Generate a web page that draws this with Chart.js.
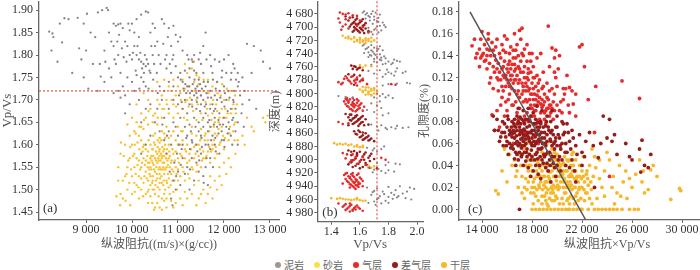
<!DOCTYPE html>
<html><head><meta charset="utf-8">
<script src="https://cdn.jsdelivr.net/npm/chart.js@4/dist/chart.umd.min.js"></script>
<style>
html,body{margin:0;padding:0;background:#fff;width:700px;height:270px;overflow:hidden;position:relative}
canvas{position:absolute;top:0}
#legend{position:absolute;left:275px;top:258px;display:flex;align-items:center;font:10px "Noto Sans CJK SC";color:#666;line-height:14px;white-space:nowrap}
#legend .it{display:flex;align-items:center;margin-right:10px}
#legend .dot{width:6px;height:6px;border-radius:50%;margin-right:3px}
</style></head><body>
<canvas id="ca" width="290" height="252" style="left:0"></canvas>
<canvas id="cb" width="160" height="252" style="left:269px"></canvas>
<canvas id="cc" width="342" height="252" style="left:418px"></canvas>
<div id="legend"></div>
<script>
// ---------- legend ----------
const LEGEND_LABELS = ['泥岩','砂岩','气层','差气层','干层'];
const LEGEND_COLORS = ['#a19692','#f7e04a','#e52b2b','#951c1c','#f6b82a'];

// ---------- panel (a): 纵波阻抗 vs Vp/Vs ----------
const A_X_TICKS = [9000,10000,11000,12000,13000];
const A_Y_TICKS = [1.45,1.50,1.55,1.60,1.65,1.70,1.75,1.80,1.85,1.90];
const A_CUTOFF = 1.72;
const mudA = [
[8200,1.852],[8270,1.848],[8290,1.84],[8250,1.81],[8380,1.785],[8430,1.87],[8530,1.882],[8480,1.828],[8620,1.88],[8700,1.76],
[8820,1.883],[8850,1.815],[8900,1.79],[8950,1.75],[9020,1.892],[9000,1.81],[9050,1.725],[9150,1.78],[9200,1.84],[9260,1.895],
[9300,1.78],[9320,1.752],[9350,1.90],[9400,1.81],[9420,1.785],[9450,1.905],[9480,1.90],[9400,1.74],[9250,1.72],[9500,1.85],
[9550,1.83],[9100,1.85],[8950,1.87],[9600,1.87],[9650,1.865],[9700,1.868],[9750,1.87],[9800,1.86],[9700,1.80],[9650,1.78],
[9750,1.76],[9800,1.73],[9700,1.72],[9600,1.715],[9750,1.705],[9850,1.71],[9900,1.82],[9950,1.80],[10000,1.79],[10050,1.82],
[10100,1.80],[10150,1.79],[10200,1.785],[10250,1.78],[10300,1.775],[10350,1.78],[10000,1.87],[10100,1.88],[10200,1.89],[10300,1.897],
[10350,1.895],[10450,1.87],[10500,1.86],[10400,1.85],[10150,1.84],[9950,1.855],[10050,1.85],[9850,1.83],[9900,1.75],[10000,1.74],
[10100,1.755],[10200,1.75],[10250,1.74],[10050,1.72],[10150,1.70],[10300,1.73],[10400,1.76],[10450,1.80],[10500,1.82],[10550,1.83],
[9550,1.75],[9500,1.77],[9600,1.82],[9850,1.67],[9950,1.69],[10300,1.68],[10400,1.69],[10200,1.65],[10650,1.88],[10700,1.87],
[10800,1.86],[10900,1.865],[10950,1.845],[11000,1.83],[11050,1.84],[10850,1.82],[10750,1.80],[10900,1.80],[11100,1.81],[11200,1.80],
[11300,1.79],[11350,1.80],[11450,1.79],[11500,1.78],[11250,1.77],[11150,1.765],[11050,1.76],[10950,1.775],[11400,1.76],[11600,1.85],
[11550,1.82],[11700,1.80],[11800,1.79],[11900,1.785],[12000,1.79],[12100,1.80],[12200,1.78],[12300,1.76],[12400,1.75],[12500,1.825],
[12650,1.82],[12800,1.81],[12850,1.785],[13000,1.77],[12600,1.76],[12450,1.72],[12300,1.73],
[10700,1.72],[10800,1.74],[10900,1.73],[11000,1.75],[11100,1.74],[11200,1.73],[11300,1.72],[11350,1.71],[11400,1.715],[11450,1.72],
[11500,1.71],[11550,1.70],[11600,1.73],[11650,1.74],[11700,1.72],[11800,1.71],[11900,1.72],[12000,1.73],[12100,1.72],[12200,1.70],
[11300,1.70],[11250,1.69],[11400,1.68],[11500,1.69],[11600,1.67],[11700,1.68],[11800,1.66],[11900,1.67],[12000,1.66],[12100,1.65],
[12200,1.66],[12300,1.65],[12050,1.64],[11950,1.63],[11850,1.64],[11750,1.62],[11650,1.63],[11550,1.64],[11450,1.65],[11350,1.66],
[11200,1.67],[11100,1.68],[11000,1.69],[10900,1.70],[10800,1.68],[10700,1.66],[10650,1.70],[10600,1.73],[10550,1.68],[10500,1.65],
[10600,1.63],[10700,1.61],[10800,1.63],[10900,1.65],[11000,1.62],[11100,1.60],[11200,1.62],[11300,1.61],[11400,1.60],[11500,1.62],
[11600,1.60],[11700,1.59],[11800,1.60],[11900,1.58],[12000,1.61],[12150,1.62],[11100,1.57],[11200,1.55],[11300,1.57],[11400,1.56],
[11500,1.58],[11600,1.55],[11700,1.57],[11000,1.54],[10900,1.52],[10950,1.50],[10850,1.48],[11050,1.51],[11550,1.53],[11650,1.51],
[11350,1.52],[10300,1.60],[10200,1.58],[10400,1.62],[11150,1.70],[11250,1.75],[11450,1.745],[11750,1.76],[11850,1.74],[11950,1.75],
[12050,1.76],[12150,1.745],[11550,1.76],[11350,1.765],[11650,1.705],[11750,1.69],[11850,1.70],[11950,1.695],[12050,1.70],[12150,1.68],
[12250,1.68],[11050,1.66],[10950,1.64],[10850,1.60],[10750,1.58],[11150,1.64],[11250,1.645],[11450,1.63],[11550,1.66],[11650,1.65],
[11950,1.61],[12250,1.63],[12300,1.60],[11380,1.725],[11420,1.705],[11320,1.735],[11480,1.735],[11260,1.715],[11120,1.725],[12080,1.675],
[11880,1.655],[11780,1.675],[12180,1.655],[11980,1.645],
[11020,1.71],[11080,1.695],[11180,1.715],[11240,1.73],[11420,1.73],[11520,1.725],[11620,1.715],[11720,1.705],[11820,1.725],[11920,1.705],
[12020,1.715],[12120,1.705],[12220,1.72],[11480,1.675],[11580,1.685],[11680,1.655],[11780,1.645],[11880,1.625],[12080,1.625],[12180,1.60],
[11280,1.63],[11380,1.64],[11180,1.615],[11080,1.59],[10980,1.58],[11420,1.585],[11520,1.595],[11620,1.57],[11720,1.61],[11820,1.585],
[10820,1.54],[10920,1.56],[11020,1.60],[11260,1.59],[11150,1.535],[11450,1.54],[11250,1.50],[10880,1.465],[11320,1.785],[11620,1.79],
[11720,1.775],[11480,1.805],[12230,1.77],[11230,1.79],[10850,1.76],[10750,1.77],[12350,1.71],[12400,1.69],
[9620,1.79],[9680,1.83],[9720,1.845],[9780,1.815],[9820,1.795],[9880,1.785],[9920,1.87],[10020,1.805],[10080,1.765],[10120,1.82],
[10180,1.805],[10220,1.77],[10280,1.80],[10320,1.79],[10380,1.765],[10420,1.82],[10480,1.78],[10540,1.76],[10580,1.80],[10620,1.78],
[10680,1.825],[10720,1.79],[10780,1.84],[10820,1.78],[10880,1.79],
[11060,1.745],[11160,1.735],[11360,1.745],[11560,1.74],[11760,1.745],[11960,1.765],[12160,1.76],[12260,1.745],[11310,1.685],[11410,1.695],
[11610,1.69],[11810,1.68],[12010,1.685],[12210,1.695],[11710,1.64],[11910,1.645],[12110,1.635],[11510,1.615],[11310,1.605],[11810,1.615],
[12010,1.595],[11660,1.60],[11460,1.565],[11760,1.55],[11060,1.555],[10960,1.53],[11260,1.545],[11560,1.515],[10760,1.62],[10660,1.645],
[10560,1.715],[10460,1.745],[10360,1.725],[10260,1.76],[10160,1.725],[12380,1.67],[12430,1.64],[12550,1.70],[12700,1.68],[12320,1.74]
];
const sandA = [
[10400,1.55],[10450,1.56],[10500,1.57],[10550,1.56],[10600,1.55],[10650,1.57],[10700,1.56],[10750,1.58],[10500,1.54],[10550,1.58],
[10600,1.59],[10650,1.545],[10700,1.535],[10450,1.53],[10400,1.57],[10350,1.56],[10300,1.54],[10750,1.55],[10800,1.57],[10850,1.56],
[10900,1.58],[10500,1.60],[10600,1.575],[10700,1.59],[10800,1.60],[10550,1.525],[10650,1.515],[10400,1.51],[10350,1.52],[10750,1.52],
[10850,1.535],[10950,1.55],[11000,1.57],[10250,1.57],[10200,1.55],[10150,1.53],[10300,1.59],[10450,1.59],[10600,1.535],[10700,1.575],
[10520,1.565],[10580,1.545],[10620,1.565],[10680,1.55],[10480,1.545],[10420,1.575],[10380,1.535],[10720,1.60],[10780,1.535],[10820,1.55],
[10880,1.59],[10920,1.52],[10660,1.595],[10560,1.61],[10460,1.62],[10360,1.61],[10260,1.60],[10160,1.59],[10100,1.57],[10050,1.55],
[10000,1.53],[10100,1.51],[10200,1.50],[10300,1.49],[10400,1.485],[10500,1.49],[10600,1.50],[10700,1.49],[10800,1.505],[10900,1.495],
[11000,1.52],[10550,1.47],[10650,1.455],[10750,1.46],[10500,1.46],[10350,1.47],[10150,1.48],[10000,1.49],[9900,1.50],[9800,1.48],
[9750,1.49],[9850,1.53],[9900,1.55],[9950,1.57],[10000,1.60],[9950,1.62],[10050,1.63],[10150,1.62],[10250,1.635],[10350,1.645],
[10450,1.65],[10550,1.645],[10650,1.63],[10750,1.64],[10850,1.62],[10950,1.61],[11050,1.60],[11150,1.59],[11250,1.58],[11350,1.595],
[11450,1.60],[11550,1.585],[11650,1.61],[11750,1.60],[11850,1.62],[11950,1.64],[12050,1.66],[11900,1.66],[11800,1.65],[11850,1.675],
[11950,1.68],[12000,1.70],[11750,1.67],[11650,1.665],[11700,1.69],[11600,1.695],[11500,1.67],[11400,1.655],[11300,1.64],[11200,1.655],
[11100,1.63],[11000,1.64],[10900,1.66],[10800,1.67],[10700,1.68],[10600,1.69],[10550,1.70],[10650,1.71],[10750,1.70],[10850,1.72],
[10950,1.71],[11050,1.715],[11150,1.725],[11250,1.73],[11350,1.74],[11450,1.735],[11550,1.72],[11650,1.745],[11750,1.73],[11850,1.74],
[11100,1.745],[11200,1.76],[11300,1.77],[11400,1.755],[11000,1.73],[10900,1.745],[10800,1.73],[10700,1.745],[11150,1.78],[11350,1.785],
[10650,1.66],[10500,1.67],[10400,1.68],[10300,1.66],[10200,1.67],[10100,1.69],[10350,1.70],[10450,1.72],[10550,1.74],[10250,1.715],
[11200,1.70],[11300,1.69],[11400,1.70],[11500,1.71],[11100,1.68],[11000,1.67],[10900,1.69],[11700,1.64],[11800,1.625],[11900,1.60],
[12000,1.59],[12100,1.61],[12200,1.63],[12250,1.65],[12150,1.67],[12200,1.69],[12100,1.70],[12300,1.61],[12250,1.58],[12150,1.55],
[12100,1.57],[12000,1.56],[11900,1.55],[11800,1.57],[11700,1.56],[11600,1.57],[11500,1.55],[11400,1.54],[11300,1.55],[11200,1.56],
[11100,1.55],[11000,1.545],[11050,1.53],[11150,1.52],[11250,1.525],[11350,1.51],[11450,1.52],[11550,1.50],[11650,1.49],[11750,1.48],
[11600,1.47],[11450,1.48],[11300,1.49],[11150,1.495],[11050,1.48],[10950,1.47],[10850,1.475],[11700,1.53],[11800,1.52],[11900,1.53],
[11950,1.51],[12050,1.535],[11850,1.58],[11750,1.59],[11650,1.585],[11550,1.57],[11450,1.575],[11350,1.57],[11250,1.565],[11150,1.57],
[11050,1.58],[10950,1.585],[12400,1.62],[12500,1.66],[12600,1.64],[12650,1.63],[12850,1.66],[12900,1.65],[12950,1.665],[12450,1.60],
[9850,1.60],[9750,1.58],[9700,1.55],[9800,1.52],[10050,1.58],[9900,1.645],[10000,1.66],[10100,1.65],[10200,1.64],[10400,1.60],
[10500,1.625],[10600,1.615],[10700,1.625],[10800,1.615],[10900,1.63],[11000,1.60],[11100,1.61],[11200,1.60],[11300,1.625],[11400,1.62],
[11500,1.635],[11600,1.625],[10350,1.585],[10450,1.52],[10250,1.515],[10150,1.565],[10050,1.515],[10750,1.48],[10650,1.48],[10450,1.50],
[10470,1.555],[10530,1.55],[10570,1.57],[10630,1.58],[10670,1.56],[10730,1.545],[10770,1.565],[10430,1.565],[10370,1.545],[10330,1.575],
[10610,1.525],[10690,1.52],[10510,1.51],[10590,1.585],[10810,1.585],[10870,1.545],[10930,1.565],[10970,1.535],[10270,1.53],[10230,1.585],
[11070,1.63],[11130,1.66],[11230,1.685],[11330,1.675],[11430,1.69],[11530,1.655],[11630,1.68],[11730,1.655],[11830,1.69],[11930,1.71],
[12030,1.68],[12130,1.64],[12230,1.61],[11980,1.62],[11880,1.635],[11780,1.61],[11680,1.595],[11580,1.61],[11480,1.59],[11380,1.58],
[10420,1.545],[10460,1.575],[10540,1.535],[10580,1.565],[10620,1.545],[10660,1.575],[10700,1.545],[10740,1.57],[10780,1.555],[10820,1.575],
[10860,1.565],[10440,1.59],[10480,1.605],[10520,1.585],[10560,1.595],[10600,1.605],[10640,1.61],[10680,1.585],[10720,1.615],[10760,1.59],
[10380,1.56],[10340,1.55],[10300,1.565],[10280,1.555],[10320,1.525],[10360,1.50],[10400,1.53],[10440,1.515],[10480,1.50],[10520,1.52],
[10560,1.505],[10600,1.515],[10640,1.53],[10680,1.51],[10720,1.50],[10760,1.515],[10800,1.525],[10840,1.51],[10880,1.52],[10900,1.54],
[10200,1.525],[10180,1.545],[10120,1.555],[10080,1.535],[10220,1.56],[10240,1.595],[10200,1.61],[10120,1.605],[10060,1.60],[10020,1.575],
[9960,1.595],[9920,1.565],[9880,1.535],[9940,1.515],[9980,1.545],[10060,1.495],[10140,1.505],[10240,1.485],[10340,1.495],[10440,1.47],
[10580,1.485],[10700,1.475],[10820,1.49],[10980,1.50],[11100,1.465],[11200,1.48],[11400,1.465],[11500,1.49],[11700,1.505],[11850,1.50],
[11020,1.56],[11080,1.575],[11120,1.54],[11180,1.585],[11220,1.535],[11280,1.59],[11320,1.545],[11380,1.60],[11420,1.555],[11480,1.61],
[11520,1.565],[11580,1.62],[11620,1.575],[11680,1.63],[11720,1.585],[11780,1.64],[11820,1.595],[11880,1.65],[11920,1.605],[11980,1.66],
[12020,1.615],[12080,1.67],[12120,1.625],[12180,1.68],[12220,1.645],[12260,1.67],[12280,1.69],[12240,1.71],[12160,1.72],[12060,1.725],
[11960,1.735],[11860,1.715],[11760,1.70],[11660,1.715],[11560,1.745],[11460,1.75],[11360,1.72],[11260,1.705],[11160,1.695],[11060,1.70],
[10960,1.685],[10860,1.70],[10760,1.69],[10660,1.68],[10560,1.66],[10460,1.665],[10360,1.675],[10260,1.655],[10160,1.64],[10080,1.625],
[9820,1.575],[9760,1.605],[9700,1.52],[9660,1.485],[9740,1.465],[9860,1.475],[9960,1.465],[10600,1.46],[10480,1.455],[10900,1.46]
];

// ---------- panel (b): depth vs Vp/Vs ----------
const B_X_TICKS = [1.4,1.6,1.8,2.0];
const B_Y_TICKS = [4680,4700,4720,4740,4760,4780,4800,4820,4840,4860,4880,4900,4920,4940,4960,4980];
const B_CUTOFF = 1.72;
const mudB = [
[1.62,4678],[1.65,4679],[1.68,4680],[1.71,4678],[1.74,4681],[1.66,4683],[1.70,4684],[1.73,4686],[1.64,4687],[1.67,4690],
[1.72,4691],[1.76,4693],[1.69,4695],[1.74,4698],[1.78,4700],[1.71,4702],[1.75,4705],[1.68,4707],[1.63,4676],[1.69,4676],
[1.62,4728],[1.66,4730],[1.70,4731],[1.74,4729],[1.64,4733],[1.68,4735],[1.72,4736],[1.66,4738],[1.70,4740],[1.74,4741],
[1.68,4743],[1.72,4745],[1.77,4744],[1.65,4732],[1.73,4733],[1.67,4742],
[1.70,4748],[1.75,4750],[1.80,4752],[1.86,4751],[1.72,4753],[1.78,4755],[1.83,4754],[1.68,4757],[1.74,4765],[1.80,4768],
[1.85,4767],[1.90,4769],[1.70,4770],[1.76,4775],[1.66,4766],[1.82,4770],
[1.80,4786],[1.86,4785],[1.93,4784],[1.72,4800],[1.76,4801],[1.80,4803],[1.68,4802],[1.74,4804],
[1.45,4804],[1.50,4805],[1.55,4806],[1.68,4815],[1.72,4818],[1.65,4825],[1.70,4828],[1.75,4822],
[1.72,4850],[1.78,4852],[1.85,4853],[1.90,4852],[1.75,4848],[1.68,4847],[1.82,4851],
[1.65,4882],[1.70,4883],[1.75,4884],[1.69,4886],
[1.72,4905],[1.78,4908],[1.85,4906],[1.66,4912],[1.70,4915],[1.75,4917],[1.80,4916],[1.73,4914],
[1.65,4942],[1.72,4943],[1.80,4941],[1.88,4940],[1.95,4942],[1.70,4947],[1.76,4948],[1.82,4950],[1.90,4951],[1.68,4953],
[1.74,4955],[1.80,4956],[1.86,4957],[1.72,4960],[1.78,4962],[1.92,4958],[1.66,4965],[1.75,4966],[1.70,4963],[1.84,4953],
[1.77,4952],[1.73,4958],[1.69,4949],
[1.64,4681],[1.67,4685],[1.70,4689],[1.73,4692],[1.77,4697],[1.72,4699],[1.66,4701],[1.70,4704],[1.73,4708],[1.69,4711],
[1.63,4726],[1.68,4727],[1.72,4732],[1.76,4735],[1.69,4737],[1.63,4739],[1.71,4742],[1.75,4746],[1.66,4745],
[1.74,4749],[1.78,4747],[1.84,4749],[1.88,4752],[1.70,4752],[1.76,4756],[1.82,4756],[1.79,4764],[1.86,4762],[1.92,4767],[1.78,4771],
[1.84,4773],[1.95,4785],[1.76,4788],[1.70,4806],[1.78,4806],[1.83,4807],[1.74,4812],[1.80,4830],[1.76,4833],[1.86,4849],[1.79,4854],
[1.94,4851],[1.73,4856],[1.77,4880],[1.72,4888],[1.80,4904],[1.88,4907],[1.69,4919],[1.78,4920],[1.84,4918],[1.98,4944],
[1.85,4946],[1.93,4948],[1.87,4955],[1.83,4959],[1.96,4960],[1.80,4965],[1.71,4968]
];
const gasB = [
[1.48,4680],[1.52,4679],[1.55,4682],[1.45,4687],[1.50,4688],[1.60,4690],[1.46,4693],[1.50,4696],[1.58,4698],[1.62,4700],
[1.47,4704],[1.66,4708],
[1.50,4774],[1.54,4775],[1.58,4776],[1.62,4778],[1.52,4780],[1.56,4781],[1.60,4782],[1.48,4784],[1.54,4785],[1.65,4786],
[1.45,4783],[1.58,4788],[1.82,4786],[1.85,4787],[1.51,4777],[1.57,4779],
[1.50,4808],[1.53,4809],[1.56,4810],[1.59,4811],[1.52,4812],[1.55,4813],[1.58,4814],[1.61,4815],[1.50,4816],[1.54,4817],
[1.57,4818],[1.52,4820],[1.56,4821],[1.60,4822],[1.54,4824],[1.58,4825],[1.62,4826],[1.51,4810],[1.55,4815],[1.59,4819],
[1.53,4823],[1.57,4827],
[1.45,4843],[1.48,4846],[1.52,4845],
[1.48,4890],[1.55,4892],[1.62,4895],[1.50,4898],[1.56,4900],[1.60,4902],[1.53,4904],[1.58,4906],[1.64,4908],[1.75,4897],
[1.78,4900],
[1.50,4921],[1.54,4922],[1.58,4923],[1.52,4925],[1.56,4926],[1.60,4927],[1.50,4929],[1.54,4930],[1.58,4931],[1.62,4932],
[1.52,4934],[1.56,4935],[1.60,4936],[1.54,4938],[1.58,4939],[1.56,4942],[1.62,4940],[1.48,4936],[1.53,4928],[1.57,4933],
[1.55,4924],[1.59,4937],
[1.45,4966],[1.50,4967],[1.54,4968],[1.58,4969],[1.48,4971],[1.52,4972],[1.56,4973],[1.60,4974],[1.50,4976],[1.55,4977],
[1.53,4970],[1.57,4975],
[1.46,4678],[1.50,4681],[1.58,4683],[1.53,4686],[1.48,4699],[1.52,4702],[1.55,4774],[1.49,4778],[1.53,4782],[1.57,4784],[1.61,4780],[1.47,4786],
[1.51,4807],[1.55,4807],[1.58,4809],[1.52,4814],[1.56,4816],[1.60,4817],[1.51,4819],[1.55,4819],[1.59,4823],[1.55,4826],[1.63,4820],[1.49,4812],
[1.51,4892],[1.57,4896],[1.54,4901],[1.51,4920],[1.55,4920],[1.59,4921],[1.49,4923],[1.53,4926],[1.57,4929],[1.61,4929],[1.51,4932],[1.55,4933],
[1.59,4934],[1.53,4937],[1.57,4938],[1.55,4940],[1.59,4941],[1.53,4942],[1.57,4944],[1.49,4969],[1.53,4966],[1.57,4971],[1.51,4974],[1.55,4975],
[1.59,4972],[1.62,4977],[1.53,4978]
];
const poorB = [
[1.50,4684],[1.55,4685],[1.58,4687],[1.62,4688],[1.52,4690],[1.56,4692],[1.60,4693],[1.64,4694],[1.54,4696],[1.58,4697],
[1.62,4698],[1.56,4700],[1.60,4701],[1.64,4702],[1.58,4704],[1.62,4705],[1.55,4707],[1.60,4708],[1.66,4706],[1.57,4695],
[1.54,4758],[1.57,4760],[1.60,4761],[1.55,4763],[1.58,4764],[1.62,4765],
[1.52,4771],[1.56,4772],[1.60,4773],[1.58,4779],[1.62,4780],[1.56,4787],
[1.50,4831],[1.54,4832],[1.58,4833],[1.62,4834],[1.52,4836],[1.56,4837],[1.60,4838],[1.64,4839],[1.54,4841],[1.58,4842],
[1.62,4843],[1.56,4845],[1.60,4846],[1.66,4847],[1.52,4848],[1.57,4835],[1.59,4840],
[1.56,4857],[1.60,4858],[1.64,4860],[1.58,4862],[1.62,4863],[1.66,4864],[1.60,4866],[1.64,4867],[1.68,4868],[1.62,4870],
[1.66,4871],[1.70,4872],
[1.52,4886],[1.56,4887],[1.60,4888],[1.64,4889],[1.68,4891],[1.54,4893],[1.58,4894],[1.62,4896],[1.66,4897],[1.70,4899],
[1.55,4901],[1.60,4903],[1.64,4905],[1.52,4907],[1.57,4909],[1.62,4911],[1.67,4912],[1.72,4913],[1.58,4890],[1.61,4900],
[1.53,4686],[1.57,4689],[1.61,4691],[1.55,4694],[1.59,4695],[1.63,4697],[1.53,4699],[1.57,4702],[1.61,4703],[1.56,4705],[1.59,4706],[1.63,4709],
[1.56,4759],[1.59,4762],[1.53,4832],[1.57,4834],[1.61,4836],[1.55,4838],[1.59,4839],[1.53,4840],[1.57,4843],[1.61,4844],[1.55,4846],[1.59,4849],
[1.63,4848],[1.59,4856],[1.62,4859],[1.57,4861],[1.61,4865],[1.65,4866],[1.63,4869],[1.67,4870],[1.54,4888],[1.58,4892],[1.63,4892],[1.67,4894],
[1.57,4898],[1.63,4900],[1.67,4902],[1.54,4904],[1.59,4906],[1.65,4908],[1.55,4911],[1.60,4913]
];
const dryB = [
[1.48,4713],[1.52,4714],[1.56,4715],[1.60,4716],[1.64,4717],[1.68,4716],[1.54,4718],[1.58,4719],[1.62,4720],[1.66,4721],
[1.56,4722],[1.60,4723],[1.64,4724],[1.70,4720],[1.50,4716],
[1.60,4757],[1.64,4758],[1.68,4759],[1.62,4761],
[1.62,4790],[1.66,4791],[1.70,4792],[1.60,4794],[1.64,4795],[1.68,4796],[1.72,4797],[1.62,4798],[1.66,4799],[1.70,4800],
[1.64,4802],[1.68,4803],
[1.42,4875],[1.46,4876],[1.50,4876],[1.54,4877],[1.58,4878],[1.62,4879],[1.56,4880],[1.60,4881],
[1.66,4909],[1.70,4910],[1.68,4912],
[1.40,4958],[1.44,4959],[1.48,4959],[1.52,4960],[1.56,4960],[1.60,4961],[1.64,4962],[1.58,4958],
[1.52,4717],[1.56,4716],[1.60,4719],[1.64,4720],[1.58,4721],[1.62,4722],[1.66,4718],[1.68,4722],[1.64,4791],[1.68,4793],
[1.62,4796],[1.66,4797],[1.70,4795],[1.66,4801],[1.44,4877],[1.48,4877],[1.52,4878],[1.58,4880],[1.62,4881],[1.46,4958],
[1.50,4960],[1.54,4961],[1.58,4960],[1.62,4962]
];

// ---------- panel (c): 纵波阻抗×Vp/Vs vs 孔隙度 ----------
const C_X_TICKS = [14000,18000,22000,26000,30000,34000];
const C_Y_TICKS = [0,0.02,0.04,0.06,0.08,0.10,0.12,0.14,0.16,0.18];
const trendC = [[13040,0.18],[22300,-0.0097]];
const gasC = [
[13200,0.149],[13500,0.138],[13800,0.146],[14000,0.162],[14100,0.142],[14300,0.136],[14500,0.160],[14600,0.145],[14800,0.152],[14900,0.130],
[15000,0.140],[15100,0.148],[15300,0.133],[15400,0.125],[15500,0.138],[15700,0.130],[15800,0.120],[15900,0.143],[16000,0.128],[16100,0.115],
[16200,0.135],[16300,0.122],[16400,0.110],[16500,0.145],[16600,0.132],[16700,0.118],[16800,0.105],[16900,0.140],[17000,0.163],[17100,0.125],
[17200,0.165],[17300,0.112],[17400,0.130],[17500,0.100],[17600,0.120],[17700,0.108],[17800,0.142],[17900,0.095],[18000,0.115],[18100,0.130],
[18200,0.105],[18300,0.090],[18400,0.122],[18500,0.098],[18700,0.142],[18800,0.110],[19000,0.088],[19200,0.102],[19300,0.167],[19400,0.130],
[19500,0.095],[19600,0.147],[19800,0.138],[20000,0.112],[20100,0.128],[20300,0.098],[20500,0.110],[20800,0.122],[21000,0.088],[21300,0.096],
[21500,0.085],[21800,0.148],[22000,0.150],[22200,0.130],[23100,0.112],[25200,0.117],[26600,0.101],[19900,0.145],[20200,0.140],[21000,0.111],
[20700,0.110],[15200,0.120],[15600,0.112],[15900,0.098],[16200,0.105],[16500,0.095],[16800,0.088],[17000,0.092],[17300,0.098],[17600,0.088],
[17800,0.082],[18000,0.092],[18200,0.085],[18500,0.080],[18800,0.093],[19100,0.078],[19400,0.085],[19700,0.082],[16100,0.125],[16400,0.132],
[16700,0.138],[17000,0.128],[17300,0.140],[17600,0.135],[17900,0.125],[18300,0.112],[18600,0.118],[18900,0.125],[19200,0.115],[19600,0.110],
[16000,0.090],[15800,0.085],[15400,0.075],[15000,0.072],[14800,0.086],[15600,0.102],[16300,0.118],[16600,0.108],[16900,0.115],[17200,0.105],
[17500,0.115],[17800,0.100],[18100,0.100],[18400,0.104],[18700,0.096],[19000,0.105],[19300,0.092],[14200,0.150],[14400,0.128],[14700,0.120],
[15200,0.155],[15600,0.150],[16000,0.155],[16300,0.148],[16800,0.150],[17100,0.155],[17600,0.150],[18000,0.142],[18400,0.138],[13800,0.130],
[14000,0.140],[14900,0.110],[15300,0.108],[17500,0.070],[18500,0.060],[19500,0.050],[20000,0.040],[21000,0.030],[16500,0.060],[23000,0.070],
[24200,0.030],[13400,0.155],[14400,0.146],[15700,0.145],[16600,0.126],[17400,0.146],[17700,0.124],[18200,0.120],[19900,0.120],[20500,0.100],
[21200,0.108],[22500,0.100],
[13600,0.142],[13900,0.138],[14200,0.135],[14400,0.140],[14600,0.133],[14700,0.140],[14900,0.145],[15100,0.136],[15200,0.128],[15400,0.142],
[15500,0.118],[15600,0.128],[15700,0.122],[15800,0.135],[15900,0.112],[16000,0.118],[16100,0.132],[16200,0.112],[16300,0.128],[16400,0.122],
[16500,0.115],[16600,0.118],[16700,0.128],[16800,0.122],[16900,0.108],[17000,0.118],[17100,0.135],[17200,0.115],[17300,0.125],[17400,0.120],
[17500,0.108],[17600,0.112],[17700,0.118],[17800,0.110],[17900,0.105],[18000,0.105],[18100,0.110],[18200,0.095],[18300,0.100],[18400,0.095],
[18500,0.108],[18600,0.102],[18700,0.088],[18800,0.100],[18900,0.095],[19000,0.098],[19100,0.090],[19200,0.092],[19300,0.100],[19400,0.095],
[19500,0.088],[19600,0.092],[19700,0.098],[19800,0.090],[20000,0.095],[20200,0.090],[20400,0.088],[15300,0.118],[15700,0.108],[16100,0.100],
[16400,0.095],[16700,0.098],[17000,0.102],[17300,0.108],[17600,0.098],[17900,0.092],[18200,0.090],[15000,0.125],[14600,0.115],[15900,0.122],
[16500,0.138],[16900,0.130],[17700,0.128],[18100,0.120],[18500,0.115],[18900,0.112],[19400,0.108],[19800,0.105],[16200,0.142],[16700,0.145],
[17200,0.142],[17900,0.135],[16900,0.082],[17400,0.085],[17700,0.080],[18000,0.085],[18300,0.078],[18600,0.082],[19000,0.082],[15500,0.095],
[15200,0.090],[14500,0.155],[13900,0.155],[15800,0.158],[16600,0.160],[19800,0.125],[20600,0.105],[21500,0.105],[20900,0.095]
];
const poorC = [
[15000,0.072],[15400,0.062],[15700,0.058],[15900,0.066],[16000,0.075],[16200,0.060],[16300,0.070],[16400,0.080],[16500,0.055],[16600,0.065],
[16700,0.075],[16800,0.085],[16900,0.058],[17000,0.068],[17100,0.078],[17200,0.050],[17300,0.062],[17400,0.072],[17500,0.082],[17600,0.055],
[17700,0.066],[17800,0.076],[17900,0.045],[18000,0.058],[18100,0.068],[18200,0.078],[18300,0.050],[18400,0.062],[18500,0.072],[18600,0.040],
[18700,0.055],[18800,0.065],[18900,0.075],[19000,0.048],[19100,0.058],[19200,0.068],[19300,0.035],[19400,0.052],[19500,0.062],[19600,0.072],
[19700,0.042],[19800,0.055],[19900,0.065],[20000,0.075],[20200,0.048],[20400,0.060],[20600,0.070],[20800,0.052],[21000,0.062],[21200,0.045],
[21500,0.058],[21800,0.068],[22000,0.052],[22300,0.062],[22600,0.070],[22900,0.058],[23300,0.047],[23700,0.085],[24000,0.065],[24200,0.082],
[24400,0.062],[24800,0.050],[25500,0.060],[26000,0.045],[26600,0.055],[26700,0.034],[26800,0.063],[27000,0.040],[27300,0.038],[27500,0.050],
[16200,0.072],[16600,0.070],[17000,0.060],[17400,0.058],[17800,0.062],[18200,0.058],[18600,0.062],[17200,0.070],[17600,0.075],[18000,0.072],
[16800,0.062],[16400,0.066],[17900,0.085],[18300,0.082],[18700,0.080],[19100,0.076],[19500,0.080],[20100,0.068],[20500,0.078],[16900,0.045],
[17300,0.040],[17700,0.038],[18100,0.035],[18500,0.032],[18900,0.042],[16100,0.050],[16600,0.046],[17100,0.064],[17500,0.064],[18400,0.068],
[19800,0.038],[20300,0.035],[21500,0.025],[22000,0.040],[23000,0.020],[21000,0.038],[14900,0.085],[15200,0.082],[15600,0.070],[16900,0.092],
[17300,0.090],[17700,0.092],[18100,0.088],[18400,0.094],[18800,0.090],[19200,0.085],[19600,0.090],[20000,0.085],[20400,0.080],[20800,0.078],
[21200,0.072],[17000,0.000],[16700,0.052],[17150,0.056],[17650,0.070],[18250,0.066],[18750,0.070],[19350,0.072],[17350,0.080],[17050,0.084],
[16550,0.078],[15800,0.070],[18650,0.048],[19250,0.052],
[15800,0.078],[16000,0.062],[16100,0.082],[16300,0.056],[16500,0.072],[16600,0.082],[16700,0.060],[16800,0.072],[16900,0.080],[17000,0.052],
[17100,0.072],[17200,0.082],[17300,0.068],[17400,0.052],[17500,0.060],[17600,0.068],[17700,0.082],[17800,0.050],[17900,0.070],[18000,0.065],
[18100,0.078],[18200,0.045],[18300,0.060],[18400,0.075],[18500,0.055],[18600,0.068],[18700,0.078],[18800,0.045],[18900,0.060],[19000,0.070],
[19100,0.050],[19200,0.062],[19300,0.075],[19400,0.045],[19500,0.070],[19600,0.058],[19700,0.068],[19800,0.048],[19900,0.075],[20000,0.058],
[20100,0.045],[20200,0.065],[20300,0.055],[20500,0.068],[20700,0.060],[20900,0.070],[21100,0.055],[21300,0.065],[21600,0.050],[16400,0.058],
[16800,0.050],[17200,0.058],[17600,0.048],[18000,0.048],[18400,0.052],[18800,0.056],[19200,0.042],[19600,0.048],[20000,0.040],[20400,0.045],
[17000,0.075],[17400,0.078],[17800,0.070],[18200,0.072],[18600,0.075],[19000,0.065],[16600,0.076],[16200,0.068],[15500,0.066],[15300,0.072],
[16700,0.040],[17500,0.044],[18300,0.040],[19100,0.038],[19900,0.030],[20700,0.040],[21400,0.035],[22200,0.048],[23500,0.060],[24600,0.068],
[25800,0.048],[17900,0.030],[18700,0.028],[19500,0.025],
[16450,0.069],[16750,0.067],[17050,0.071],[17250,0.065],[17450,0.067],[17750,0.064],[17950,0.060],[18150,0.062],[18350,0.070],[18550,0.064],
[18850,0.060],[19050,0.060],[19450,0.064],[19750,0.060],[17150,0.048],[17550,0.052],[17950,0.054],[18450,0.046],[18950,0.050],[19450,0.040],
[16350,0.075],[16850,0.078],[17350,0.073],[17850,0.080],[18450,0.079],[19150,0.080],[19850,0.062],[20250,0.058],[20650,0.052],[15650,0.080],
[16050,0.085],[15950,0.058]
];
const dryC = [
[15100,0.017],[15300,0.014],[16000,0.025],[15800,0.055],[16600,0.045],[16900,0.020],[17200,0.030],[17400,0.010],[17500,0.040],[17700,0.025],
[17800,0.050],[17900,0.015],[18000,0.035],[18100,0.005],[18200,0.028],[18300,0.045],[18400,0.018],[18500,0.008],[18600,0.038],[18700,0.025],
[18800,0.012],[18900,0.048],[19000,0.030],[19100,0.020],[19200,0.005],[19300,0.040],[19400,0.028],[19500,0.015],[19600,0.035],[19700,0.022],
[19800,0.008],[19900,0.045],[20000,0.030],[20100,0.018],[20200,0.038],[20300,0.025],[20400,0.010],[20500,0.042],[20600,0.028],[20700,0.015],
[20800,0.035],[20900,0.022],[21000,0.005],[21100,0.032],[21200,0.018],[21300,0.040],[21400,0.028],[21500,0.012],[21600,0.030],[21800,0.020],
[22000,0.035],[22200,0.025],[22400,0.015],[22600,0.040],[22800,0.055],[23000,0.048],[23400,0.028],[23800,0.035],[24000,0.052],[24200,0.045],
[24500,0.030],[24800,0.015],[25000,0.040],[25300,0.025],[25600,0.010],[25800,0.028],[26300,0.032],[26600,0.045],[26800,0.025],[27000,0.015],
[27300,0.018],[27500,0.036],[27700,0.040],[28000,0.030],[29100,0.009],[29900,0.017],[29800,0.019],
[18000,0],[18300,0],[18600,0],[18900,0],[19200,0],[19500,0],[19800,0],[20100,0],[20400,0],[20700,0],
[21000,0],[21300,0],[21600,0],[22000,0],[22500,0],[23000,0],[23300,0],[23600,0],[23900,0],[24200,0],
[24500,0],[24800,0],[25200,0],[25800,0],[26200,0],[26500,0],
[18200,0.020],[18500,0.030],[18800,0.035],[19100,0.040],[19400,0.050],[19700,0.045],[20000,0.050],[20300,0.055],[19200,0.060],[18700,0.055],
[18300,0.062],[19600,0.055],[20600,0.048],[20900,0.044],[21200,0.050],[21500,0.045],[21800,0.040],[22100,0.048],[19000,0.012],[19300,0.018],
[19600,0.008],[19900,0.012],[20200,0.005],[20500,0.020],[20800,0.008],[21100,0.012],[21400,0.005],[21700,0.008],[22200,0.008],[22500,0.022],
[17300,0.055],[17600,0.060],[17000,0.050],[16800,0.035],[17900,0.060],[18450,0.042],[18950,0.022],[19450,0.034],[19950,0.026],[20450,0.032],
[20950,0.030],[21450,0.020],[21950,0.028],[22350,0.032],[23200,0.010],[23600,0.020],[24600,0.005],[25100,0.012],[26000,0.020],[17600,0.018],
[17400,0.020],[17700,0.035],[17900,0.040],[18100,0.025],[18300,0.012],[18400,0.030],[18600,0.020],[18700,0.040],[18800,0.005],[18900,0.030],
[19000,0.040],[19100,0.008],[19200,0.025],[19300,0.030],[19400,0.010],[19500,0.025],[19600,0.040],[19700,0.015],[19800,0.030],[19900,0.020],
[20000,0.010],[20100,0.035],[20200,0.020],[20300,0.040],[20400,0.030],[20500,0.005],[20600,0.015],[20700,0.035],[20800,0.025],[20900,0.010],
[21000,0.020],[21100,0.040],[21200,0.030],[21300,0.010],[21400,0.020],[21500,0.035],[21600,0.015],[21700,0.025],[21800,0.030],[21900,0.010],
[22000,0.020],[22100,0.030],[22300,0.015],[22400,0.035],[22600,0.010],[22700,0.025],[22900,0.030],[23100,0.038],[18500,0.045],[19000,0.050],
[19500,0.045],[20000,0.045],[20500,0.035],[21000,0.045],[18000,0.045],[17800,0.040],[18200,0.050],[18800,0.052],[19800,0.052],[20800,0.045],
[21300,0.052],[17500,0.028],[17100,0.040],[16700,0.030],[16400,0.040],[17200,0.015],[18000,0.020],[19300,0.003],[20900,0.000],[21900,0.000],
[22800,0.005],[23800,0.012],[24400,0.020],[25500,0.035],[26900,0.035],[23400,0.045],[16200,0.050],[15600,0.035],
[18150,0.015],[18350,0.035],[18650,0.030],[18850,0.018],[19050,0.025],[19250,0.035],[19550,0.020],[19750,0.030],[20050,0.022],[20250,0.030],
[20550,0.025],[20750,0.020],[21050,0.025],[21250,0.035],[21550,0.028],[21750,0.018],[22150,0.018],[22450,0.028],[18550,0.022],[19150,0.015],
[19650,0.018],[20150,0.042],[20650,0.040],[21150,0.022],[17850,0.030],[17650,0.045],[19850,0.038],[22750,0.018]
];

// ---------- helpers ----------
const pts = arr => arr.map(p => ({x: p[0], y: p[1]}));
const fmtThousands = v => v >= 1000 ? Math.floor(v/1000) + ' ' + String(Math.round(v % 1000)).padStart(3,'0') : String(v);
const TICK_FONT = {family: '"Liberation Serif","DejaVu Serif",serif', size: 12};
const TITLE_FONT = {family: '"Liberation Serif","Noto Sans CJK SC",serif', size: 12};
const AXIS_COLOR = '#666';

const overlay = {
  id: 'overlay',
  afterDatasetsDraw(chart, args, o) {
    const {ctx, chartArea: a, scales} = chart;
    ctx.save();
    if (o.hline !== undefined || o.vline !== undefined) {
      ctx.strokeStyle = '#e8553f'; ctx.lineWidth = 1.2; ctx.setLineDash([2, 2]);
      ctx.beginPath();
      if (o.hline !== undefined) { const y = scales.y.getPixelForValue(o.hline); ctx.moveTo(a.left, y); ctx.lineTo(a.right, y); }
      if (o.vline !== undefined) { const x = scales.x.getPixelForValue(o.vline); ctx.moveTo(x, a.top); ctx.lineTo(x, a.bottom); }
      ctx.stroke();
    }
    ctx.setLineDash([]);
    ctx.fillStyle = '#333';
    ctx.font = '13px "Liberation Serif", serif';
    ctx.textBaseline = 'middle';
    ctx.fillText(o.label, a.left + o.dx, a.bottom - o.dy);
    ctx.restore();
  }
};

function axis(o) {
  return {
    type: 'linear', position: o.pos, min: o.min, max: o.max, reverse: !!o.reverse,
    afterBuildTicks: s => { s.ticks = o.ticks.map(v => ({value: v})); },
    afterFit: s => {
      if (o.pos === 'bottom') { s.height = o.size; } else { s.width = o.size; }
      s.paddingLeft = 0; s.paddingRight = 0; s.paddingTop = 0; s.paddingBottom = 0;
    },
    border: {display: true, color: AXIS_COLOR, width: 1.3},
    grid: {display: true, drawOnChartArea: false, drawTicks: true, tickLength: 3, color: AXIS_COLOR, lineWidth: 1},
    ticks: {font: TICK_FONT, color: '#333', padding: o.pad, callback: o.fmt, autoSkip: false, maxRotation: 0},
    title: {display: true, text: o.title, font: o.tfont || TITLE_FONT, color: '#555', padding: 0}
  };
}

function scatterSet(data, color, r) {
  return {data: pts(data), backgroundColor: color, borderWidth: 0, pointRadius: r, pointHoverRadius: r};
}

const baseOpts = {responsive: false, animation: false, events: []};

// panel a
new Chart(document.getElementById('ca'), {
  type: 'scatter',
  data: {datasets: [
    scatterSet(mudA, '#8b8288', 1.15),
    scatterSet(sandA, '#f8c232', 1.2)
  ]},
  options: Object.assign({}, baseOpts, {
    layout: {padding: {top: 1, right: 11, left: 0, bottom: 0}},
    plugins: {legend: {display: false}, tooltip: {enabled: false}, overlay: {hline: A_CUTOFF, label: '(a)', dx: 4, dy: 11}},
    scales: {
      x: axis({pos: 'bottom', min: 7978, max: 13196, ticks: A_X_TICKS, size: 32, pad: 0, fmt: fmtThousands, title: '纵波阻抗((m/s)×(g/cc))'}),
      y: axis({pos: 'left', min: 1.4322, max: 1.92, ticks: A_Y_TICKS, size: 39, pad: 3, fmt: v => v.toFixed(2), title: 'Vp/Vs', tfont: {family: '"Liberation Serif",serif', size: 13}})
    }
  }),
  plugins: [overlay]
});

// panel b
new Chart(document.getElementById('cb'), {
  type: 'scatter',
  data: {datasets: [
    scatterSet(dryB, '#f6b82a', 1.3),
    scatterSet(mudB, '#8b8288', 1.1),
    scatterSet(gasB, '#e52b2b', 1.3),
    scatterSet(poorB, '#951c1c', 1.3)
  ]},
  options: Object.assign({}, baseOpts, {
    layout: {padding: {top: 0, right: 6, left: 0, bottom: 0}},
    plugins: {legend: {display: false}, tooltip: {enabled: false}, overlay: {vline: B_CUTOFF, label: '(b)', dx: 5, dy: 9}},
    scales: {
      x: axis({pos: 'bottom', min: 1.302, max: 2.042, ticks: B_X_TICKS, size: 30.3, pad: 0, fmt: v => v.toFixed(1), title: 'Vp/Vs', tfont: {family: '"Liberation Serif",serif', size: 13}}),
      y: axis({pos: 'left', min: 4661, max: 4993.5, reverse: true, ticks: B_Y_TICKS, size: 48.3, pad: 1, fmt: fmtThousands, title: '深度(m)'})
    }
  }),
  plugins: [overlay]
});

// panel c
new Chart(document.getElementById('cc'), {
  type: 'scatter',
  data: {datasets: [
    {type: 'line', data: pts(trendC), borderColor: '#555', borderWidth: 1.5, pointRadius: 0, fill: false, showLine: true},
    scatterSet(poorC, '#951c1c', 1.9),
    scatterSet(dryC, '#f6b82a', 1.9),
    scatterSet(gasC, '#e52b2b', 1.9)
  ]},
  options: Object.assign({}, baseOpts, {
    layout: {padding: {top: 0, right: 5, left: 0, bottom: 0}},
    plugins: {legend: {display: false}, tooltip: {enabled: false}, overlay: {label: '(c)', dx: 9, dy: 10}},
    scales: {
      x: axis({pos: 'bottom', min: 12160, max: 35840, ticks: C_X_TICKS, size: 32, pad: 0, fmt: fmtThousands, title: '纵波阻抗×Vp/Vs'}),
      y: axis({pos: 'left', min: -0.0097, max: 0.189, ticks: C_Y_TICKS, size: 41, pad: 3, fmt: v => v.toFixed(2), title: '孔隙度(%)'})
    }
  }),
  plugins: [overlay]
});

// legend
const lg = document.getElementById('legend');
LEGEND_LABELS.forEach((t, i) => {
  const it = document.createElement('div'); it.className = 'it';
  const d = document.createElement('span'); d.className = 'dot'; d.style.background = LEGEND_COLORS[i];
  const s = document.createElement('span'); s.textContent = t;
  it.appendChild(d); it.appendChild(s); lg.appendChild(it);
});
</script>
</body></html>
